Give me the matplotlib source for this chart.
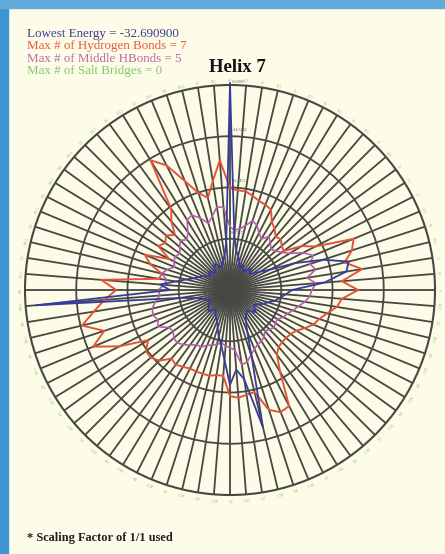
import matplotlib
matplotlib.use('Agg')
import matplotlib.pyplot as plt
import numpy as np
from matplotlib.patches import Rectangle

plt.rcParams['font.family'] = ['Liberation Serif', 'DejaVu Serif']

# Radial values per spoke (ring units, 4 rings), spokes every 4.5 degrees CCW from east
hbonds = [2.50, 2.19, 2.61, 2.30, 2.50, 2.61, 1.87, 1.64, 1.29, 1.33,
          1.40, 1.37, 1.48, 1.56, 1.76, 1.80, 1.83, 1.89, 1.95, 1.95,
          1.99, 2.54, 2.15, 1.85, 1.99, 2.30, 2.73, 2.97, 1.95, 1.76,
          1.52, 1.64, 1.56, 1.64, 1.33, 1.80, 1.64, 1.37, 1.40, 2.52,
          2.22, 2.46, 2.69, 2.97, 2.58, 2.89, 2.42, 1.87, 2.03, 2.03,
          1.95, 1.76, 1.80, 1.76, 1.72, 1.72, 1.72, 1.72, 1.68, 1.68,
          2.07, 2.11, 2.07, 2.05, 2.46, 2.58, 2.54, 1.87, 1.56, 1.46,
          1.44, 1.44, 1.46, 1.52, 1.64, 1.76, 1.83, 1.95, 2.11, 2.19]
middle_hbonds = [1.60, 1.68, 1.52, 1.72, 1.64, 1.76, 1.60, 1.37, 1.25, 1.17,
                 1.13, 1.21, 1.29, 1.17, 1.25, 1.37, 1.42, 1.29, 1.21, 1.17,
                 1.23, 1.62, 1.64, 1.48, 1.37, 1.52, 1.64, 1.60, 1.40, 1.29,
                 1.37, 1.29, 1.21, 1.25, 1.23, 1.17, 1.29, 1.37, 1.25, 1.29,
                 1.40, 1.37, 1.48, 1.56, 1.58, 1.52, 1.58, 1.40, 1.37, 1.44,
                 1.46, 1.40, 1.33, 1.25, 1.25, 1.17, 1.13, 1.09, 1.05, 1.09,
                 1.13, 1.17, 1.48, 1.44, 1.33, 1.25, 1.19, 1.17, 1.13, 1.05,
                 1.09, 1.13, 1.09, 1.09, 1.17, 1.21, 1.29, 1.37, 1.48, 1.56]
energy = [1.21, 1.85, 2.30, 2.38, 1.91, 1.37, 0.88, 0.68, 0.55, 0.49,
          0.59, 0.51, 0.43, 0.49, 0.55, 0.47, 0.59, 0.68, 0.78, 1.07,
          4.04, 0.94, 0.68, 0.59, 0.51, 0.47, 0.55, 0.59, 0.51, 0.43,
          0.49, 0.55, 0.47, 0.51, 0.59, 0.66, 0.74, 0.88, 1.07, 1.37,
          1.17, 3.79, 0.98, 0.68, 0.55, 0.49, 0.43, 0.47, 0.51, 0.55,
          0.59, 0.51, 0.47, 0.55, 0.59, 0.66, 0.78, 0.94, 1.09, 1.37,
          1.85, 1.56, 1.76, 2.75, 1.37, 0.88, 0.68, 0.59, 0.55, 0.51,
          0.59, 0.66, 0.59, 0.55, 0.62, 0.70, 0.78, 0.90, 0.98, 1.09]
ring_labels = ['-8.1727', '-16.3455', '-24.5182', '-32.6909']
info_lines = ['Lowest Energy = -32.690900', 'Max # of Hydrogen Bonds = 7',
              'Max # of Middle HBonds = 5', 'Max # of Salt Bridges = 0']

cream = '#fdfce8'
grid_col = '#474743'
info_colors = ['#3a3d8f', '#e8583a', '#c066a8', '#86c46a']

n = len(hbonds)
angles_deg = np.arange(n) * 360.0 / n
theta = np.deg2rad(angles_deg)

W, H = 445, 554
fig = plt.figure(figsize=(W / 100, H / 100), dpi=100, facecolor=cream)

# blue frame strips on the left and top
fig.patches.append(Rectangle((0, 0), 8 / W, 1, transform=fig.transFigure,
                             color='#3f95d2', zorder=0))
fig.patches.append(Rectangle((0, 1 - 8 / H), 1, 8 / H, transform=fig.transFigure,
                             color='#62acdb', zorder=0))

cx, cy, R = 230, 290, 205
ax = fig.add_axes([(cx - R) / W, (H - cy - R) / H, 2 * R / W, 2 * R / H],
                  projection='polar')
ax.set_facecolor(cream)
ax.set_rlim(0, 4)
ax.set_thetagrids(angles_deg, labels=[])
ax.set_rgrids([1, 2, 3], labels=[])
ax.grid(True, color=grid_col, linewidth=1.3)
ax.spines['polar'].set_color(grid_col)
ax.spines['polar'].set_linewidth(1.5)
ax.tick_params(length=0, pad=0)

def closed(vals):
    return np.append(theta, theta[0]), np.append(vals, vals[0])

t, r = closed(hbonds)
ax.plot(t, r, color='#e5533a', linewidth=1.4, zorder=3)
t, r = closed(middle_hbonds)
ax.plot(t, r, color='#b261ad', linewidth=1.2, zorder=3)
t, r = closed(energy)
ax.plot(t, r, color='#353c9c', linewidth=1.3, zorder=4, clip_on=False)

# ring value labels along the north spoke
for i, lab in enumerate(ring_labels[:3]):
    ax.text(np.pi / 2 - 0.02, i + 1.08, lab, fontsize=3, color='#555555',
            ha='left', va='bottom')
ax.text(np.pi / 2 - 0.01, 4.02, ring_labels[3], fontsize=2.5, color='#555555',
        ha='left', va='bottom')

# small green angle marks outside the outer ring
for a in angles_deg:
    ax.text(np.deg2rad(a), 4.08, f'{a:g}', fontsize=2.5, color='#7fbf5c',
            ha='center', va='center', rotation=a - 90)

for i, (txt, col) in enumerate(zip(info_lines, info_colors)):
    fig.text(27 / W, 1 - (34 + 12.4 * i) / H, txt, color=col, fontsize=9.4,
             ha='left', va='center')

fig.text(237 / W, 1 - 68 / H, 'Helix 7', fontsize=13.5, fontweight='bold',
         ha='center', va='center', color='#111111')
fig.text(27 / W, 1 - 538 / H, '* Scaling Factor of 1/1 used', fontsize=8.9,
         fontweight='bold', ha='left', va='center', color='#222222')

fig.savefig('out.png', dpi=100, facecolor=fig.get_facecolor())
